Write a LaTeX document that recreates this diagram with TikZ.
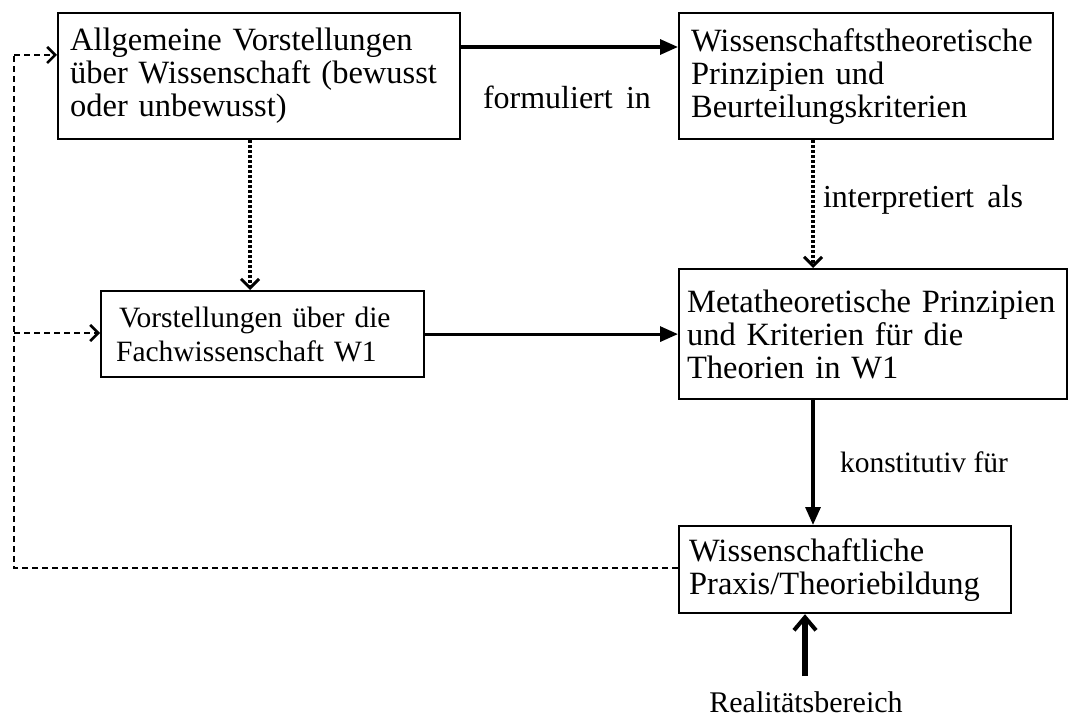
\documentclass[tikz,border=0pt]{standalone}
\usepackage{fontspec}
\setmainfont{Liberation Serif}
\usetikzlibrary{arrows.meta}
\begin{document}
\begin{tikzpicture}[x=1pt,y=-1pt,
  box/.style={draw, line width=2.2pt, anchor=north west, align=left, inner xsep=12pt,
    font=\fontsize{32.5}{33}\selectfont},
  lbl/.style={font=\fontsize{32}{33}\selectfont, inner sep=0pt},
  solidarr/.style={line width=3.2pt, -{Triangle[length=18pt,width=15pt]}},
  dotarr/.style={line width=3.6pt, dash pattern=on 3pt off 2pt, -{Straight Barb[length=9pt,width=18pt,line width=3pt]}},
  dasharr/.style={line width=2.6pt, dash pattern=on 6pt off 4pt, -{Straight Barb[length=8pt,width=16pt,line width=2.6pt]}},
  dashline/.style={line width=2.6pt, dash pattern=on 6pt off 4pt},
  thickarr/.style={line width=5.5pt, -{Straight Barb[length=13pt,width=22pt,line width=4pt]}}
]
\useasboundingbox[fill=white] (0,0) rectangle (1071,722);

\node[box, minimum width=402pt, minimum height=126pt, text width=378pt, inner xsep=12pt] (A) at (57,12)
  {Allgemeine Vorstellungen\\über Wissenschaft (bewusst\\ oder unbewusst)};
\node[box, minimum width=374pt, minimum height=126pt, text width=350pt, inner xsep=12pt] (B) at (678,12)
  {Wissenschaftstheoretische\\Prinzipien und\\ Beurteilungskriterien};
\node[box, minimum width=323pt, minimum height=86pt, text width=305pt, inner xsep=9pt,
  font=\fontsize{29.5}{34}\selectfont] (C) at (100,290)
  {\hspace*{9pt}Vorstellungen über die\\\hspace*{6pt}Fachwissenschaft W1};
\node[box, minimum width=388pt, minimum height=130pt, text width=372pt, inner xsep=8pt] (D) at (678,268)
  {Metatheoretische Prinzipien\\und Kriterien für die\\ Theorien in W1};
\node[box, minimum width=332pt, minimum height=87pt, text width=312pt, inner xsep=10pt] (E) at (678,525)
  {Wissenschaftliche\\Praxis/Theoriebildung};
\node[lbl, font=\fontsize{30}{33}\selectfont] (R) at (806,702) {Realitätsbereich};

\node[lbl] (lf) at (567,97) {formuliert\, in};
\node[lbl] (li) at (923,200) {interpretiert\, als};
\node[lbl, font=\fontsize{29.5}{33}\selectfont] (lk) at (924,462) {konstitutiv für};

\draw[solidarr] (A.east |- 0,47) -- (B.west |- 0,47);
\draw[dotarr] (B.south -| 813,0) -- (D.north -| 813,0);
\draw[dotarr] (A.south -| 250,0) -- (C.north -| 250,0);
\draw[solidarr] (C.east) -- (D.west |- C.east);
\draw[solidarr] (D.south -| 813,0) -- (E.north -| 813,0);
\coordinate (r1) at (805,676);
\draw[thickarr] (r1) -- (E.south -| r1);

\coordinate (c1) at (14,568);
\coordinate (c2) at (14,55);
\coordinate (c3) at (14,333);
\draw[dashline] (E.west |- c1) -- (c1) -- (c2);
\draw[dasharr] (c2) -- (A.west |- c2);
\draw[dasharr] (c3) -- (C.west |- c3);
\end{tikzpicture}
\end{document}
